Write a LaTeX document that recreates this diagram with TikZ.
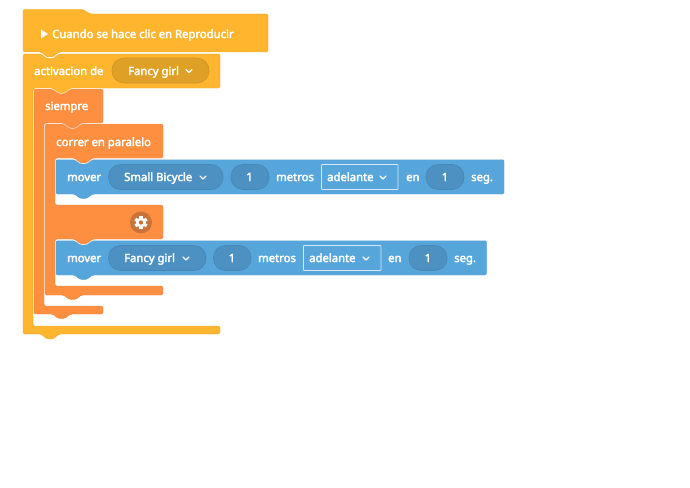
\documentclass[tikz,border=0pt]{standalone}
\usepackage{fontspec}
\setmainfont{Noto Sans}[FakeBold=3]
\definecolor{hatc}{HTML}{FFB52E}
\definecolor{hatd}{HTML}{F2AC2C}
\definecolor{hatp}{HTML}{DFA028}
\definecolor{hatpd}{HTML}{CF9525}
\definecolor{org}{HTML}{FF8F40}
\definecolor{orgd}{HTML}{F2883D}
\definecolor{gearc}{HTML}{C8743A}
\definecolor{blu}{HTML}{56A6DC}
\definecolor{blud}{HTML}{529ED1}
\definecolor{blup}{HTML}{4D90C2}
\definecolor{blupd}{HTML}{4686B5}
\definecolor{boxl}{HTML}{D5E9F7}
\tikzset{
  x=1pt,y=-1pt,
  hatblock/.style={fill=hatc,draw=hatd,line width=.4pt,rounded corners=1.5pt},
  orgblock/.style={fill=org,draw=orgd,line width=.4pt,rounded corners=1.5pt},
  blublock/.style={fill=blu,draw=blud,line width=.4pt,rounded corners=1.5pt},
  hatpill/.style={fill=hatp,draw=hatpd,line width=.6pt,rounded corners=12pt},
  blupill/.style={fill=blup,draw=blupd,line width=.6pt,rounded corners=12pt},
  ddbox/.style={draw=boxl,line width=.8pt,rounded corners=.6pt},
  hilite/.style={draw=white,draw opacity=.55,line width=.7pt,rounded corners=1.5pt},
  lbl/.style={anchor=base west,inner sep=0pt,text=white,font=\fontsize{11.3}{14}\selectfont},
  lblc/.style={lbl,anchor=base},
  chev/.style={draw=white,line width=1.1pt,line cap=round,line join=round},
}
\begin{document}
\begin{tikzpicture}
\useasboundingbox (0,0) rectangle (690,487);
\fill[white] (0,0) rectangle (690,487);
% blue blocks
\path[blublock] (56,240.5) -- (74.5,240.5) -- (80.5,245) -- (86.5,245) -- (92.5,240.5) -- (486.5,240.5) -- (486.5,275) -- (92.5,275) -- (86.5,279.5) -- (80.5,279.5) -- (74.5,275) -- (56,275) -- cycle;
\path[blublock] (56,159.5) -- (74.5,159.5) -- (80.5,164) -- (86.5,164) -- (92.5,159.5) -- (504,159.5) -- (504,194) -- (92.5,194) -- (86.5,198.5) -- (80.5,198.5) -- (74.5,194) -- (56,194) -- cycle;
% orange blocks
\path[orgblock] (45,124) -- (63.5,124) -- (69.5,128.5) -- (75.5,128.5) -- (81.5,124) -- (163,124) -- (163,158) -- (92.5,158) -- (86.5,163) -- (80.5,163) -- (74.5,158) -- (55,158) -- (55,205) -- (163,205) -- (163,239) -- (92.5,239) -- (86.5,244) -- (80.5,244) -- (74.5,239) -- (55,239) -- (55,286) -- (163,286) -- (163,295) -- (81.5,295) -- (75.5,299.5) -- (69.5,299.5) -- (63.5,295) -- (45,295) -- cycle;
\path[orgblock] (34,89) -- (52.5,89) -- (58.5,93.5) -- (64.5,93.5) -- (70.5,89) -- (103,89) -- (103,123) -- (81.5,123) -- (75.5,128) -- (69.5,128) -- (63.5,123) -- (44,123) -- (44,306) -- (103,306) -- (103,314) -- (70.5,314) -- (64.5,318.5) -- (58.5,318.5) -- (52.5,314) -- (34,314) -- cycle;
% hat-coloured blocks
\path[hatblock] (23,54) -- (41,54) -- (47,58.5) -- (53,58.5) -- (59,54) -- (220,54) -- (220,88) -- (70.5,88) -- (64.5,93) -- (58.5,93) -- (52.5,88) -- (33,88) -- (33,326) -- (220,326) -- (220,334) -- (59,334) -- (53,339) -- (47,339) -- (41,334) -- (23,334) -- cycle;
\path[hatblock] (23,9.5) -- (83,9.5) -- (90,14) -- (268,14) -- (268,52) -- (59,52) -- (53,57) -- (47,57) -- (41,52) -- (23,52) -- cycle;
% top highlights where blocks join
\path[hilite] (24,53) -- (41,53) -- (47,57.8) -- (53,57.8) -- (59,53) -- (219,53);
\path[hilite] (35,88.6) -- (52.5,88.6) -- (58.5,93.3) -- (64.5,93.3) -- (70.5,88.6) -- (102,88.6);
\path[hilite] (46,123.6) -- (63.5,123.6) -- (69.5,128.3) -- (75.5,128.3) -- (81.5,123.6) -- (162,123.6);
\path[hilite] (57,159.3) -- (74.5,159.3) -- (80.5,163.6) -- (86.5,163.6) -- (92.5,159.3) -- (503,159.3);
\path[hilite] (57,240.3) -- (74.5,240.3) -- (80.5,244.6) -- (86.5,244.6) -- (92.5,240.3) -- (485.5,240.3);
% pills and boxes
\path[hatpill] (112,58) rectangle (209,83);
\path[blupill] (108.5,164.5) rectangle (223,189.5);
\path[blupill] (231,164.5) rectangle (269,189.5);
\path[blupill] (426,164.5) rectangle (464,189.5);
\path[ddbox] (321.5,164.5) rectangle (398,189.5);
\path[blupill] (108.5,245.5) rectangle (206,270.5);
\path[blupill] (213.5,245.5) rectangle (251,270.5);
\path[blupill] (409,245.5) rectangle (447,270.5);
\path[ddbox] (303.5,245.5) rectangle (381,270.5);
% play triangle
\fill[white] (41,29.5) -- (48,34) -- (41,38.5) -- cycle;
% gear
\fill[gearc] (141,222.5) circle (11);
\begin{scope}[shift={(141,222.5)}]
\foreach \a in {0,60,...,300}{
  \fill[white,rotate=\a] (-1.6,-6.6) rectangle (1.6,0);
}
\fill[white] (0,0) circle (5);
\fill[gearc] (0,0) circle (2.2);
\end{scope}
% chevrons
\draw[chev] (186,69.5) -- (189,72.5) -- (192,69.5);
\draw[chev] (200,176) -- (203,179) -- (206,176);
\draw[chev] (380,176) -- (383,179) -- (386,176);
\draw[chev] (183,257) -- (186,260) -- (189,257);
\draw[chev] (363,257) -- (366,260) -- (369,257);
% labels
\node[lbl] (t1) at (52,38) {Cuando se hace clic en Reproducir};
\node[lbl] (t2) at (34,75) {activacion de};
\node[lbl] (t3) at (128,75) {Fancy girl};
\node[lbl] (t4) at (45,110) {siempre};
\node[lbl] (t5) at (56,146) {correr en paralelo};
\node[lbl] (a1) at (67,181) {mover};
\node[lbl] (a2) at (124,181) {Small Bicycle};
\node[lblc] (a3) at (249.5,181) {1};
\node[lbl] (a4) at (276,181) {metros};
\node[lbl] (a5) at (327,181) {adelante};
\node[lbl] (a6) at (406,181) {en};
\node[lblc] (a7) at (445,181) {1};
\node[lbl] (a8) at (471,181) {seg.};
\node[lbl] (b1) at (67,262) {mover};
\node[lbl] (b2) at (124,262) {Fancy girl};
\node[lblc] (b3) at (232,262) {1};
\node[lbl] (b4) at (258,262) {metros};
\node[lbl] (b5) at (309,262) {adelante};
\node[lbl] (b6) at (388,262) {en};
\node[lblc] (b7) at (428,262) {1};
\node[lbl] (b8) at (454,262) {seg.};
\end{tikzpicture}
\end{document}
